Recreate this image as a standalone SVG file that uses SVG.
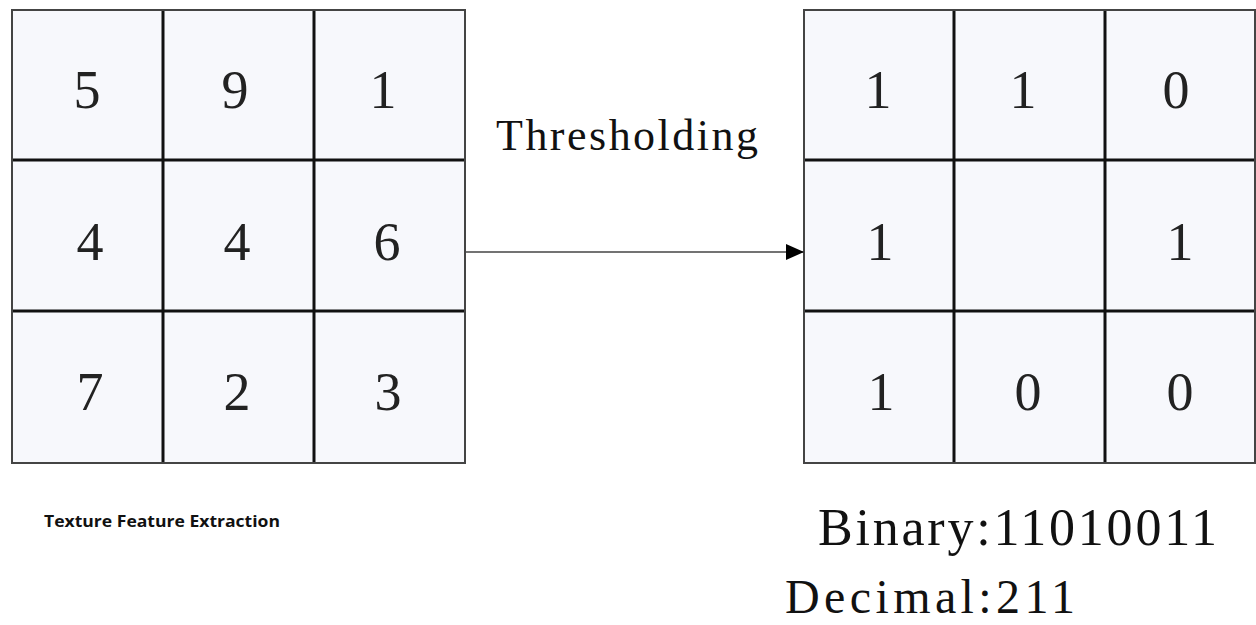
<svg xmlns="http://www.w3.org/2000/svg" width="1256" height="625" viewBox="0 0 1256 625">
<defs>
<style>
.cell{fill:#f7f8fc;stroke:none}
.outer{fill:none;stroke:#444;stroke-width:2}
.inner{stroke:#111;stroke-width:3}
.num{font-family:"Liberation Serif",serif;font-size:54px;fill:#222;text-anchor:middle}
.lbl{font-family:"Liberation Serif",serif;fill:#111}
.cap{font-family:"Open Sans","Liberation Sans",sans-serif;font-weight:bold;font-size:16px;fill:#111}
.conn{stroke:#444;stroke-width:1.5;fill:none}
</style>
<marker id="arr" markerWidth="18" markerHeight="16" refX="17" refY="8" orient="auto" markerUnits="userSpaceOnUse">
<path d="M0,0 L18,8 L0,16 Z" fill="#000"/>
</marker>
</defs>
<rect width="1256" height="625" fill="#fff"/>
<g id="input-grid">
<rect class="cell" x="12" y="10" width="453" height="453"/>
<line class="inner" x1="163" y1="10" x2="163" y2="463"/>
<line class="inner" x1="314" y1="10" x2="314" y2="463"/>
<line class="inner" x1="12" y1="160" x2="465" y2="160"/>
<line class="inner" x1="12" y1="311" x2="465" y2="311"/>
<rect class="outer" x="12" y="10" width="453" height="453"/>
<text class="num" x="87" y="108">5</text>
<text class="num" x="235" y="108">9</text>
<text class="num" x="383" y="108">1</text>
<text class="num" x="90" y="260">4</text>
<text class="num" x="237" y="260">4</text>
<text class="num" x="387" y="260">6</text>
<text class="num" x="90" y="410">7</text>
<text class="num" x="237" y="410">2</text>
<text class="num" x="388" y="410">3</text>
</g>
<g id="output-grid">
<rect class="cell" x="804" y="10" width="451" height="453"/>
<line class="inner" x1="954" y1="10" x2="954" y2="463"/>
<line class="inner" x1="1105" y1="10" x2="1105" y2="463"/>
<line class="inner" x1="804" y1="160" x2="1255" y2="160"/>
<line class="inner" x1="804" y1="311" x2="1255" y2="311"/>
<rect class="outer" x="804" y="10" width="451" height="453"/>
<text class="num" x="878" y="108">1</text>
<text class="num" x="1023" y="108">1</text>
<text class="num" x="1176" y="108">0</text>
<text class="num" x="880" y="260">1</text>
<text class="num" x="1180" y="260">1</text>
<text class="num" x="881" y="410">1</text>
<text class="num" x="1028" y="410">0</text>
<text class="num" x="1180" y="410">0</text>
</g>
<g id="connectors">
<line class="conn" x1="465" y1="252" x2="803" y2="252" marker-end="url(#arr)"/>
</g>
<g id="labels">
<text class="lbl" x="496" y="150" font-size="44" textLength="262" lengthAdjust="spacing">Thresholding</text>
<text class="cap" x="44" y="527" textLength="236" lengthAdjust="spacingAndGlyphs">Texture Feature Extraction</text>
<text class="lbl" x="818" y="545" font-size="52" textLength="399" lengthAdjust="spacing">Binary:11010011</text>
<text class="lbl" x="785" y="613" font-size="48" textLength="290" lengthAdjust="spacing">Decimal:211</text>
</g>
</svg>
